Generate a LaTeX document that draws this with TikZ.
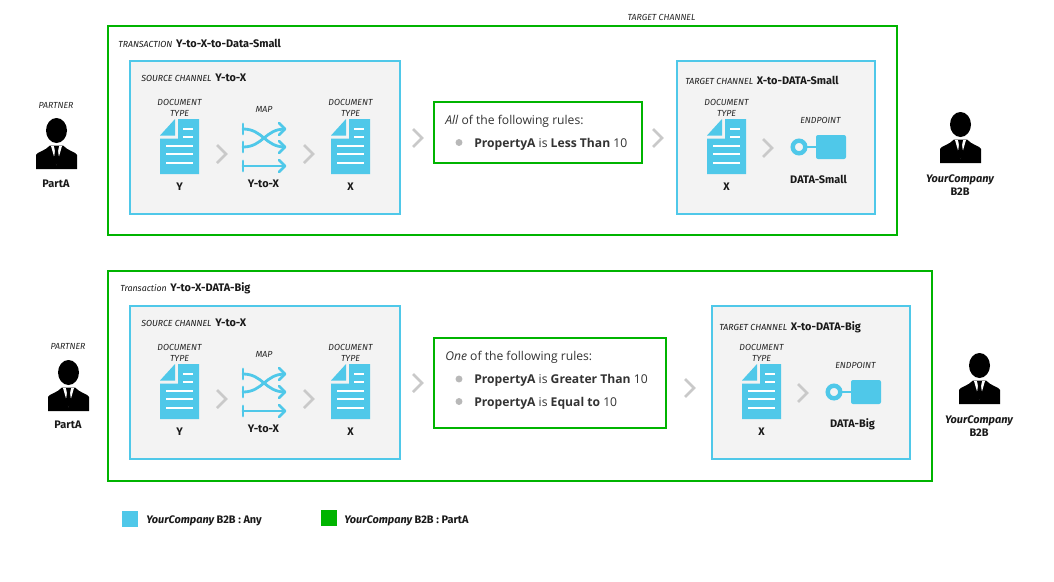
\documentclass[tikz,border=0pt]{standalone}
\usepackage{fontspec}
\setmainfont{Fira Sans}
\newfontfamily\rulefont{Open Sans}
\usetikzlibrary{arrows.meta}
\definecolor{skyblue}{HTML}{4FC8E9}
\definecolor{boxgreen}{HTML}{00B400}
\definecolor{panelgray}{HTML}{F3F3F3}
\definecolor{chevgray}{HTML}{C9C9C9}
\newcommand{\capsize}{\fontsize{6.6}{8}\selectfont}
\newcommand{\namesize}{\fontsize{8.2}{9}\selectfont\upshape\bfseries}
\tikzset{
  outerbox/.style={draw=boxgreen,line width=1.6pt,fill=white},
  rulebox/.style={draw=boxgreen,line width=1.6pt,fill=white},
  channelbox/.style={draw=skyblue,line width=1.6pt,fill=panelgray},
  small cap/.style={font=\capsize\itshape,align=center,inner sep=0pt,text=black!85},
  heading/.style={font=\capsize\itshape,anchor=west,inner sep=0pt,text=black!90},
  itemname/.style={font=\fontsize{8.2}{9.2}\selectfont\bfseries,align=center,inner sep=0pt,text=black!90},
  ruletext/.style={font=\rulefont\fontsize{9.1}{11}\selectfont,anchor=west,inner sep=0pt,text=black!80},
  bullet/.style={circle,fill=black!28,inner sep=0pt,minimum size=5.2pt},
  mapline/.style={skyblue,line width=2.1pt,line cap=round,line join=round},
  pics/chevron/.style={code={
    \draw[chevgray,line width=2pt] (0,-9) -- (9,0) -- (0,9);}},
  pics/document/.style={code={
    \fill[skyblue] (0,16.5) -- (15,0) -- (15,16.5) -- cycle;
    \fill[skyblue] (18,0) -- (39,0) -- (39,55) -- (0,55) -- (0,19.5) -- (18,19.5) -- cycle;
    \draw[white,line width=1.5pt] (23,9.5) -- (33,9.5) (23,17.5) -- (33,17.5)
      (6,27) -- (33,27) (6,35) -- (33,35) (6,43.5) -- (33,43.5);}},
  pics/mapicon/.style={code={
    \draw[mapline] (0,-5) -- (0,5) (0,13) -- (0,23) (0,32) -- (0,42);
    \draw[mapline] (0,0) .. controls (20,0) and (22,18) .. (42,18);
    \draw[mapline] (0,18) .. controls (20,18) and (22,0) .. (42,0);
    \draw[mapline] (0,37) -- (42,37);
    \draw[mapline] (36,-6) -- (42,0) -- (36,6) (36,12) -- (42,18) -- (36,24) (36,31) -- (42,37) -- (36,43);}},
  pics/endpoint/.style={code={
    \draw[skyblue,line width=3.3pt] (0,0) circle (6.3);
    \draw[skyblue,line width=2pt] (7,0) -- (18,0);
    \fill[skyblue,rounded corners=1.5pt] (17,-12) rectangle (47,12);}},
  pics/person/.style={code={
    \fill[black] (20.5,12.5) ellipse (10.5 and 12.5);
    \fill[black] (0,51) -- (0,37) .. controls (1,34) and (9,33) .. (14,27.5)
      -- (27,27.5) .. controls (32,33) and (40,34) .. (41,37) -- (41,51) -- cycle;
    \fill[white] (15,28) -- (26,28) -- (20.5,47) -- cycle;
    \fill[black] (18,28) -- (23,28) -- (22,33) -- (23.5,43) -- (20.5,47) -- (17.5,43) -- (19,33) -- cycle;}}
}
\begin{document}
\begin{tikzpicture}[x=0.75pt,y=-0.75pt]
  \useasboundingbox (0,0) rectangle (1054,582);

  % upper transaction
  \draw[outerbox] (108,26) rectangle (897,235);
  \draw[channelbox] (130,61) rectangle (400,214);
  \draw[channelbox] (677,61) rectangle (875,214);
  \draw[rulebox] (434,102) rectangle (642,163);

  \node[small cap] (targetTop) at (661.5,17) {TARGET CHANNEL};
  \node[heading] (transTop) at (118,43.5) {TRANSACTION\, {\namesize Y-to-X-to-Data-Small}};
  \node[heading] (sourceTop) at (141,78) {SOURCE CHANNEL\, {\namesize Y-to-X}};
  \node[heading] (channelTop) at (685,80) {TARGET CHANNEL\, {\namesize X-to-DATA-Small}};

  \node[small cap] (partnerTop) at (56,105) {PARTNER};
  \pic at (36,118) {person};
  \node[itemname] (partTop) at (56,184) {PartA};
  \pic at (940,112) {person};
  \node[itemname] (companyTop) at (960,185) {\itshape YourCompany\\B2B};

  \node[small cap] (docA) at (179.5,108) {DOCUMENT\\TYPE};
  \pic at (160,119) {document};
  \node[itemname] (docAname) at (179.5,187) {Y};
  \pic at (217,154) {chevron};
  \node[small cap] (mapTop) at (264,109) {MAP};
  \pic at (243,129) {mapicon};
  \node[itemname] (mapName) at (263.5,184) {Y-to-X};
  \pic at (304,154) {chevron};
  \node[small cap] (docB) at (350.5,108) {DOCUMENT\\TYPE};
  \pic at (331,119) {document};
  \node[itemname] (docBname) at (350.5,187) {X};

  \pic at (413,138) {chevron};
  \node[ruletext] (ruleHead) at (445,121) {\textit{All} of the following rules:};
  \node[bullet] (dotTop) at (459,142.5) {};
  \node[ruletext] (ruleTop) at (474,144) {\textbf{PropertyA} is \textbf{Less Than} 10};
  \pic at (653,138) {chevron};

  \node[small cap] (docC) at (726.5,108) {DOCUMENT\\TYPE};
  \pic at (707,119) {document};
  \node[itemname] (docCname) at (726.5,187) {X};
  \pic at (763,148) {chevron};
  \node[small cap] (endTop) at (820.5,120) {ENDPOINT};
  \pic at (799,147) {endpoint};
  \node[itemname] (endName) at (818.5,179) {DATA-Small};

  % lower transaction
  \draw[outerbox] (108,271) rectangle (932,481);
  \draw[channelbox] (130,306) rectangle (400,459);
  \draw[channelbox] (712,306) rectangle (910,459);
  \draw[rulebox] (434,338) rectangle (666,428);

  \node[heading] (transLow) at (120,288.5) {Transaction\, {\namesize Y-to-X-DATA-Big}};
  \node[heading] (sourceLow) at (141,323) {SOURCE CHANNEL\, {\namesize Y-to-X}};
  \node[heading] (channelLow) at (719,327) {TARGET CHANNEL\, {\namesize X-to-DATA-Big}};

  \node[small cap] (partnerLow) at (68,346) {PARTNER};
  \pic at (48,360) {person};
  \node[itemname] (partLow) at (68,425) {PartA};
  \pic at (959,353) {person};
  \node[itemname] (companyLow) at (979,426) {\itshape YourCompany\\B2B};

  \node[small cap] (docD) at (179.5,353) {DOCUMENT\\TYPE};
  \pic at (160,364) {document};
  \node[itemname] (docDname) at (179.5,432) {Y};
  \pic at (217,399) {chevron};
  \node[small cap] (mapLow) at (264,354) {MAP};
  \pic at (243,374) {mapicon};
  \node[itemname] (mapNameLow) at (263.5,429) {Y-to-X};
  \pic at (304,399) {chevron};
  \node[small cap] (docE) at (350.5,353) {DOCUMENT\\TYPE};
  \pic at (331,364) {document};
  \node[itemname] (docEname) at (350.5,432) {X};

  \pic at (413,383) {chevron};
  \node[ruletext] (ruleHeadLow) at (445,357) {\textit{One} of the following rules:};
  \node[bullet] (dotLowA) at (459,379) {};
  \node[ruletext] (ruleLowA) at (474,380) {\textbf{PropertyA} is \textbf{Greater Than} 10};
  \node[bullet] (dotLowB) at (459,401.5) {};
  \node[ruletext] (ruleLowB) at (474,403) {\textbf{PropertyA} is \textbf{Equal to} 10};
  \pic at (685,388) {chevron};

  \node[small cap] (docF) at (761.5,353) {DOCUMENT\\TYPE};
  \pic at (742,364) {document};
  \node[itemname] (docFname) at (761.5,432) {X};
  \pic at (798,393) {chevron};
  \node[small cap] (endLow) at (855.5,365) {ENDPOINT};
  \pic at (834,392) {endpoint};
  \node[itemname] (endNameLow) at (852.5,424) {DATA-Big};

  % legend
  \fill[skyblue] (122,511) rectangle (138,527);
  \node[heading,font=\namesize] (legendAny) at (146,521) {\itshape YourCompany \upshape B2B : Any};
  \fill[boxgreen] (321,510) rectangle (337,526);
  \node[heading,font=\namesize] (legendPart) at (344,521) {\itshape YourCompany \upshape B2B : PartA};
\end{tikzpicture}
\end{document}
